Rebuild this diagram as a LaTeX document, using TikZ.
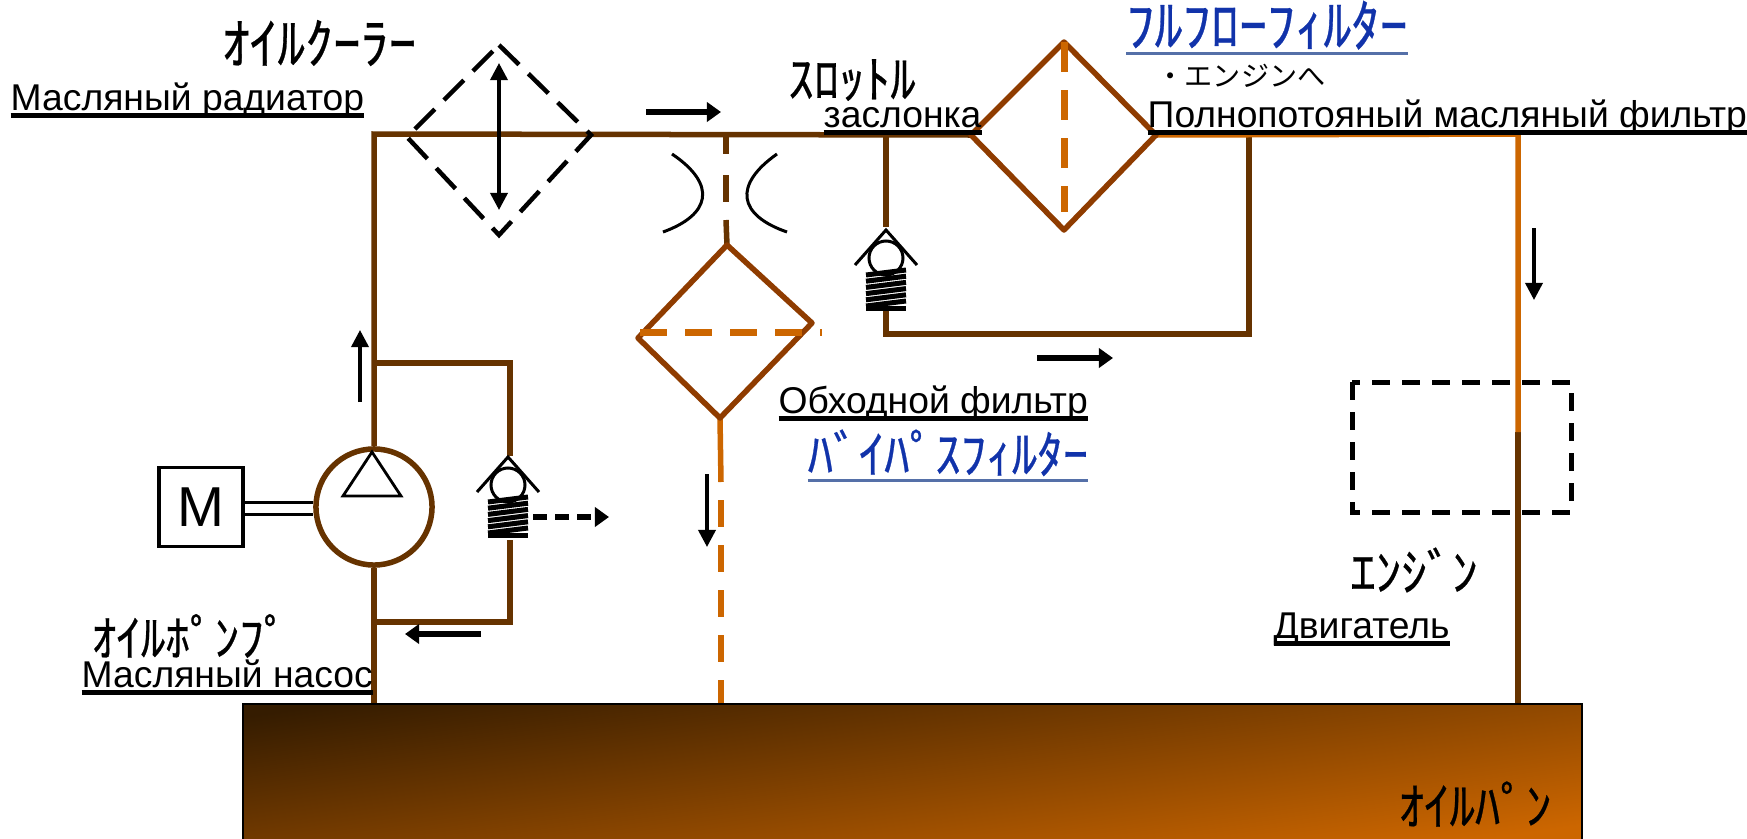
\documentclass[tikz,border=0pt]{standalone}
\usepackage{fontspec}
\setmainfont{Liberation Sans}
\newfontfamily\jpfont{Noto Sans CJK JP}[BoldFont={Noto Sans CJK JP},BoldFeatures={FakeBold=0.5}]
\usetikzlibrary{arrows.meta}
\definecolor{oilbrown}{HTML}{663300}
\definecolor{filterbrown}{HTML}{8F3C00}
\definecolor{oilorange}{HTML}{CC6600}
\definecolor{pandark}{HTML}{351C00}
\definecolor{panlight}{HTML}{CC6600}
\definecolor{linkblue}{HTML}{1133AA}
\definecolor{linkline}{HTML}{5570A8}
\pgfdeclarehorizontalshading{panshade}{100bp}{color(0bp)=(pandark); color(18bp)=(pandark); color(82bp)=(panlight); color(100bp)=(panlight)}
\newsavebox{\ulsave}
\newcommand{\ulblack}[1]{\sbox{\ulsave}{#1}\rlap{\usebox{\ulsave}}\rule[-2.4pt]{\wd\ulsave}{1.5pt}}
\newcommand{\ulblue}[1]{\sbox{\ulsave}{#1}\rlap{\usebox{\ulsave}}\textcolor{linkline}{\rule[-2.6pt]{\wd\ulsave}{0.9pt}}}
\tikzset{
  pipe/.style={draw=oilbrown,line width=0.055cm},
  hotpipe/.style={draw=oilorange,line width=0.055cm},
  filterline/.style={draw=filterbrown,line width=0.055cm,line join=round},
  filtercore/.style={draw=oilorange,line width=0.07cm,dash pattern=on 0.27cm off 0.18cm},
  flowarrow/.style={black,line width=0.055cm,-{Triangle[length=0.14cm,width=0.19cm]}},
  thinarrow/.style={black,line width=0.035cm,-{Triangle[length=0.17cm,width=0.17cm]}},
  rulabel/.style={anchor=base west,inner sep=0pt,font=\fontsize{10.6pt}{12pt}\selectfont},
  jplabel/.style={anchor=center,inner sep=0pt,font=\fontsize{14.5pt}{16pt}\jpfont\bfseries},
  bluelabel/.style={anchor=base,inner sep=0pt,text=linkblue,font=\fontsize{14.5pt}{16pt}\jpfont\bfseries},
  pics/checkvalve/.style={code={
    \draw[black,line width=0.03cm] (-31,35) -- (0,0) -- (31,35);
    \draw[black,line width=0.03cm] (0,28) circle (17);
    \foreach \s in {0,1,...,5}
      \draw[black,line width=0.05cm] (-20,45+6.2*\s) -- (20,40+6.2*\s);
    \draw[black,line width=0.05cm] (-20,78) -- (20,78);
  }}
}
\begin{document}
\begin{tikzpicture}[x=0.01cm,y=-0.01cm]
  \useasboundingbox (0,0) rectangle (1747,839);
  % oil pan
  \shade[shading=panshade,shading angle=-34,transform canvas={shift={(242,703)},xscale=13.38,yscale=1.36}] (0cm,0cm) rectangle (1cm,-1cm);
  \node[draw=black,line width=0.022cm,anchor=north west,inner sep=0pt,minimum width=13.38cm,minimum height=1.45cm] (pan) at (242,703) {};
  % corners of the circuit
  \coordinate (cornerTL) at (374,134);
  \coordinate (pumpfoot) at (374,703);
  \coordinate (tapA) at (374,363);
  \coordinate (tapB) at (374,622);
  \coordinate (reliefT) at (510,363);
  \coordinate (reliefB) at (510,622);
  \coordinate (throttleT) at (726,134);
  \coordinate (byF) at (727,245);
  \coordinate (byL) at (638,338);
  \coordinate (byR) at (812,323);
  \coordinate (byB) at (720,418);
  \coordinate (byFoot) at (721,703);
  \coordinate (byMid) at (721,482);
  \coordinate (fullT) at (1064,42);
  \coordinate (fullL) at (971,135);
  \coordinate (fullR) at (1156,135);
  \coordinate (fullB) at (1064,230);
  \coordinate (valveT) at (886,134);
  \coordinate (loopA) at (886,334);
  \coordinate (loopB) at (1249,334);
  \coordinate (loopC) at (1249,134);
  \coordinate (cornerTR) at (1518,134);
  \coordinate (engineIn) at (1518,432);
  \coordinate (engineOut) at (1518,703);
  % pump and motor
  \node[circle,draw=oilbrown,line width=0.055cm,minimum size=1.16cm,inner sep=0pt] (pump) at (374,507) {};
  \node[draw=black,line width=0.035cm,minimum width=0.84cm,minimum height=0.79cm,inner sep=0pt,font=\fontsize{16pt}{18pt}\selectfont] (motor) at (201,507) {M};
  \draw[black,line width=0.03cm] ([yshift=0.05cm]motor.east) -- ([yshift=0.05cm]pump.west);
  \draw[black,line width=0.03cm] ([yshift=-0.07cm]motor.east) -- ([yshift=-0.07cm]pump.west);
  \draw[black,line width=0.028cm] (372,452) -- (343,496) -- (401,496) -- cycle;
  % brown pipes
  \draw[pipe] (pump.north) -- (cornerTL) -- (fullL);
  \draw[pipe] (pump.south) -- (pumpfoot);
  \draw[pipe] (tapA) -- (reliefT) -- (510,456);
  \draw[pipe] (510,540) -- (reliefB) -- (tapB);
  \draw[pipe] (throttleT) -- (726,154);
  \draw[pipe] (726,175) -- (726,202);
  \draw[pipe] (726,220) -- (byF);
  \draw[pipe] (valveT) -- (886,227);
  \draw[pipe] (886,309) -- (loopA) -- (loopB) -- (loopC);
  \draw[pipe] (engineIn) -- (engineOut);
  % orange pipes
  \draw[hotpipe] (fullR) -- (cornerTR) -- (engineIn);
  \draw[hotpipe] (byB) -- (byMid);
  \draw[hotpipe,line width=0.065cm,dash pattern=on 0.27cm off 0.18cm,dash phase=-0.18cm] (byMid) -- (byFoot);
  % filters
  \draw[filterline] (byF) -- (byR) -- (byB) -- (byL) -- cycle;
  \draw[filtercore] (640,332) -- (822,332);
  \draw[filterline] (fullT) -- (fullR) -- (fullB) -- (fullL) -- cycle;
  \draw[filtercore,dash pattern=on 0.3cm off 0.18cm] (fullT) -- (1064,212);
  % oil cooler
  \draw[black,line width=0.045cm,dash pattern=on 0.28cm off 0.13cm] (499,45) -- (591,135) -- (499,235) -- (407,137) -- cycle;
  \draw[black,line width=0.035cm,{Triangle[length=0.17cm,width=0.17cm]}-{Triangle[length=0.17cm,width=0.17cm]}] (499,63) -- (499,210);
  % throttle
  \draw[black,line width=0.03cm] (672,154) .. controls (718,185) and (710,215) .. (663,232);
  \draw[black,line width=0.03cm] (777,154) .. controls (733,185) and (738,215) .. (787,232);
  % relief valves
  \pic at (508,457) {checkvalve};
  \pic at (886,230) {checkvalve};
  % engine
  \draw[black,line width=0.05cm,dash pattern=on 0.18cm off 0.12cm] (1352,382) rectangle (1571,512);
  % flow arrows
  \coordinate (arrUpA) at (360,402);
  \coordinate (arrUpB) at (360,330);
  \draw[thinarrow] (arrUpA) -- (arrUpB);
  \draw[thinarrow] (707,474) -- (707,547);
  \draw[thinarrow] (1534,228) -- (1534,300);
  \draw[flowarrow] (646,112) -- (721,112);
  \draw[flowarrow] (1037,358) -- (1113,358);
  \draw[flowarrow] (481,634) -- (405,634);
  \draw[flowarrow,dash pattern=on 0.14cm off 0.08cm] (533,517) -- (609,517);
  % labels
  \node[jplabel,font=\fontsize{15.8pt}{17pt}\jpfont\bfseries] (cooler) at (319,43) {ｵｲﾙｸｰﾗｰ};
  \node[rulabel] (coolerRu) at (10,110) {\ulblack{Масляный радиатор}};
  \node[jplabel] (throttle) at (852,80) {ｽﾛｯﾄﾙ};
  \node[rulabel] (throttleRu) at (823,127) {\ulblack{заслонка}};
  \node[bluelabel,font=\fontsize{16pt}{18pt}\jpfont\bfseries] (fullflow) at (1267,46) {\ulblue{ﾌﾙﾌﾛｰﾌｨﾙﾀｰ}};
  \node[jplabel,font=\fontsize{8pt}{9pt}\jpfont] (toEngine) at (1241,76) {・エンジンへ};
  \node[rulabel] (fullflowRu) at (1147,127) {\ulblack{Полнопотояный масляный фильтр}};
  \node[rulabel] (bypassRu) at (778,413) {\ulblack{Обходной фильтр}};
  \node[bluelabel] (bypass) at (948,473) {\ulblue{ﾊﾞｲﾊﾟｽﾌｨﾙﾀｰ}};
  \node[jplabel] (engine) at (1414,570) {ｴﾝｼﾞﾝ};
  \node[rulabel] (engineRu) at (1273,638) {\ulblack{Двигатель}};
  \node[jplabel,font=\fontsize{14pt}{16pt}\jpfont\bfseries] (pumpJp) at (190,636) {ｵｲﾙﾎﾟﾝﾌﾟ};
  \node[rulabel] (pumpRu) at (81,687) {\ulblack{Масляный насос}};
  \node[jplabel] (panJp) at (1475,804) {ｵｲﾙﾊﾟﾝ};
\end{tikzpicture}
\end{document}
